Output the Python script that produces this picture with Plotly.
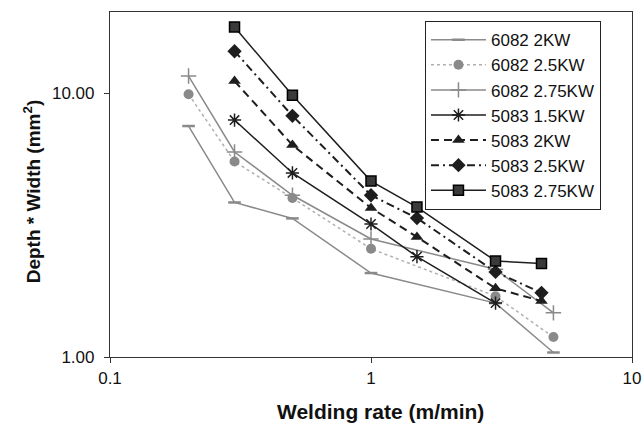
import plotly.graph_objects as go

names = ["6082 2KW", "6082 2.5KW", "6082 2.75KW", "5083 1.5KW", "5083 2KW", "5083 2.5KW", "5083 2.75KW"]

x6082 = [0.2, 0.3, 0.5, 1, 3, 5]
y6082_2 = [7.5, 3.85, 3.35, 2.08, 1.60, 1.04]
y6082_25 = [9.9, 5.5, 4.0, 2.57, 1.70, 1.19]
y6082_275 = [11.6, 5.98, 4.1, 2.80, 2.15, 1.47]

x5083_15 = [0.3, 0.5, 1, 1.5, 3]
y5083_15 = [7.9, 4.98, 3.19, 2.40, 1.60]
x5083 = [0.3, 0.5, 1, 1.5, 3, 4.5]
y5083_2 = [11.1, 6.35, 3.67, 2.85, 1.82, 1.63]
y5083_25 = [14.4, 8.2, 4.1, 3.36, 2.10, 1.75]
y5083_275 = [17.8, 9.8, 4.64, 3.70, 2.31, 2.26]

xs = [x6082, x6082, x6082, x5083_15, x5083, x5083, x5083]
ys = [y6082_2, y6082_25, y6082_275, y5083_15, y5083_2, y5083_25, y5083_275]

gray = "#8a8a8a"
dark = "#1e1e1e"
styles = [
    dict(line=dict(color=gray, width=1.5, dash="solid"),
         marker=dict(symbol="line-ew", size=9, color=gray, line=dict(color=gray, width=2.5))),
    dict(line=dict(color="#b0b0b0", width=1.5, dash="dot"),
         marker=dict(symbol="circle", size=10, color=gray, line=dict(width=0))),
    dict(line=dict(color=gray, width=1.5, dash="solid"),
         marker=dict(symbol="cross-thin", size=11, color=gray, line=dict(color=gray, width=1.5))),
    dict(line=dict(color=dark, width=1.5, dash="solid"),
         marker=dict(symbol="asterisk", size=11, color=dark, line=dict(color=dark, width=1.5))),
    dict(line=dict(color=dark, width=2, dash="8px,5px"),
         marker=dict(symbol="triangle-up", size=11, color=dark, line=dict(width=0))),
    dict(line=dict(color=dark, width=2, dash="8px,4px,2px,4px"),
         marker=dict(symbol="diamond", size=11, color=dark, line=dict(width=0))),
    dict(line=dict(color=dark, width=1.5, dash="solid"),
         marker=dict(symbol="square", size=10, color="#3a3a3a", line=dict(color="#000", width=1.5))),
]

fig = go.Figure()
for n, x, y, s in zip(names, xs, ys, styles):
    fig.add_trace(go.Scatter(x=x, y=y, name=n, mode="lines+markers", **s))

axis_common = dict(showgrid=False, zeroline=False, showline=True, linecolor="#333",
                   linewidth=1.2, mirror=True, ticks="outside", ticklen=5,
                   tickcolor="#333", tickfont=dict(size=17, color="#111"), automargin=False)

fig.update_xaxes(type="log", range=[-1, 1], tickvals=[0.1, 1, 10], ticktext=["0.1", "1", "10"],
                 **axis_common)
fig.update_yaxes(type="log", range=[0, 1.307], tickvals=[1, 10], ticktext=["1.00", "10.00"],
                 ticklabelstandoff=6, **axis_common)

fig.add_annotation(text="<b>Welding rate (m/min)</b>", xref="paper", yref="paper",
                   x=0.519, y=-0.159, xanchor="center", yanchor="middle", showarrow=False,
                   font=dict(size=21, color="#111"))
fig.add_annotation(text="<b>Depth * Width (mm<sup>2</sup>)</b>", xref="paper", yref="paper",
                   x=-0.149, y=0.481, xanchor="center", yanchor="middle", showarrow=False,
                   textangle=-90, font=dict(size=19, color="#111"))

fig.update_layout(
    width=644, height=429,
    margin=dict(l=110, r=12, t=12, b=72),
    paper_bgcolor="white", plot_bgcolor="white",
    font=dict(family="Liberation Sans, Arial, sans-serif", color="#111"),
    legend=dict(x=0.603, y=0.974, xanchor="left", yanchor="top",
                bordercolor="#222", borderwidth=1.2, bgcolor="white",
                font=dict(size=17, color="#111"), itemwidth=55,
                tracegroupgap=0),
    showlegend=True,
)

fig.write_html("out.html")
